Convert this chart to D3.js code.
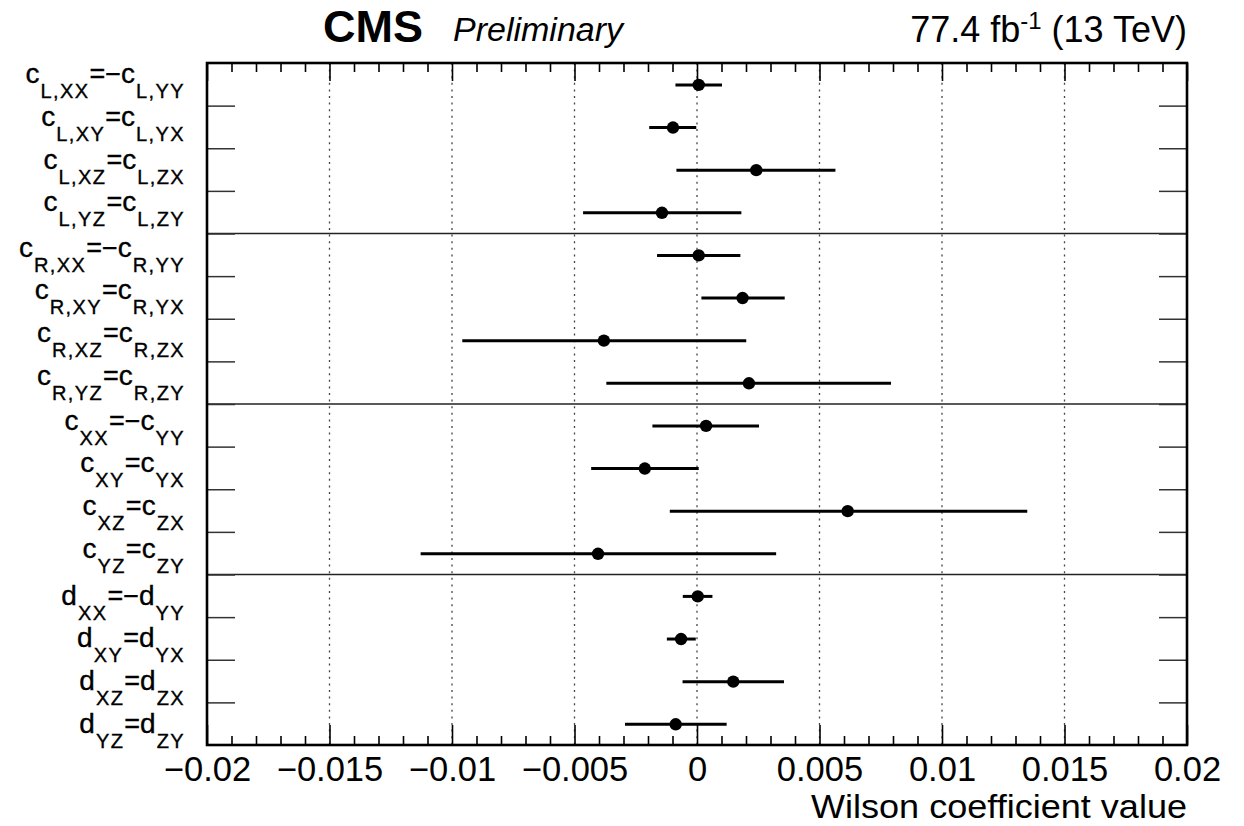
<!DOCTYPE html>
<html><head><meta charset="utf-8">
<script src="https://cdn.jsdelivr.net/npm/d3@7"></script>
<style>
html,body{margin:0;padding:0;background:#fff;}
text{font-family:"Liberation Sans",Arial,Helvetica,sans-serif;fill:#000;}
</style></head>
<body>
<svg id="chart" width="1244" height="826"></svg>
<script>
// ---- data ----
const letters = ["c","c","c","c","c","c","c","c","c","c","c","c","d","d","d","d"];
const sub1 = ["L,XX","L,XY","L,XZ","L,YZ","R,XX","R,XY","R,XZ","R,YZ","XX","XY","XZ","YZ","XX","XY","XZ","YZ"];
const ops  = ["=\u2212","=","=","=","=\u2212","=","=","=","=\u2212","=","=","=","=\u2212","=","=","="];
const sub2 = ["L,YY","L,YX","L,ZX","L,ZY","R,YY","R,YX","R,ZX","R,ZY","YY","YX","ZX","ZY","YY","YX","ZX","ZY"];
const central = [0.00007,-0.00098,0.00242,-0.00143, 0.00007,0.00186,-0.0038,0.00212, 0.00037,-0.00213,0.00615,-0.00404, 0.00003,-0.00065,0.00148,-0.00087];
const low     = [-0.00088,-0.00195,-0.00084,-0.00465, -0.00163,0.00018,-0.00958,-0.0037, -0.00182,-0.00432,-0.00111,-0.01128, -0.00058,-0.00123,-0.00059,-0.00294];
const high    = [0.00102,-0.00003,0.00565,0.00181, 0.00177,0.00358,0.00201,0.00792, 0.00253,0.00007,0.01348,0.00323, 0.00063,-0.00005,0.00355,0.00121];
const xMajorTicks = [-0.02,-0.015,-0.01,-0.005,0,0.005,0.01,0.015,0.02];
const xTickLabels = ["\u22120.02","\u22120.015","\u22120.01","\u22120.005","0","0.005","0.01","0.015","0.02"];
const groupBoundaries = [4,8,12];

// ---- layout ----
const L = 207, R = 1187, T = 63, B = 745;
const svg = d3.select("#chart");
const x = d3.scaleLinear().domain([-0.02,0.02]).range([L,R]);
const rows = d3.range(letters.length);
const yb = d3.scaleBand().domain(rows).range([T,B]).paddingInner(0).paddingOuter(0);
const yi = d3.scaleLinear().domain([0,letters.length]).range([T,B]);

// grid lines (dotted)
svg.append("g").selectAll("line")
  .data(xMajorTicks.filter(v=>v>-0.02 && v<0.02))
  .join("line")
  .attr("x1",d=>x(d)).attr("x2",d=>x(d)).attr("y1",T).attr("y2",B)
  .attr("stroke","#444").attr("stroke-width",1.3).attr("stroke-dasharray","2,4.6");

// group separators
svg.append("g").selectAll("line").data(groupBoundaries).join("line")
  .attr("x1",L).attr("x2",R).attr("y1",d=>yi(d)).attr("y2",d=>yi(d))
  .attr("stroke","#222").attr("stroke-width",1.5);

// axes
const minorTicks = d3.range(-20,21).map(i=>i/1000).filter(v=>Math.abs(Math.round(v*1000))%5!==0);
function styleAxis(g){ g.select(".domain").remove(); g.selectAll(".tick line").attr("stroke","#000").attr("stroke-width",1.6); }
const fmt = d => xTickLabels[xMajorTicks.findIndex(v=>Math.abs(v-d)<1e-9)];

svg.append("g").attr("transform",`translate(0,${B})`)
  .call(d3.axisBottom(x).tickValues(xMajorTicks).tickSize(-20).tickPadding(0).tickFormat(fmt))
  .call(styleAxis)
  .call(g=>g.selectAll(".tick text").attr("y",36).attr("dy",null)
     .style("font-size","34.5px").style("font-family","'Liberation Sans',Arial,sans-serif").attr("fill","#000"));
svg.append("g").attr("transform",`translate(0,${B})`)
  .call(d3.axisBottom(x).tickValues(minorTicks).tickSize(-9).tickFormat(""))
  .call(styleAxis);
svg.append("g").attr("transform",`translate(0,${T})`)
  .call(d3.axisTop(x).tickValues(xMajorTicks).tickSize(-18).tickFormat(""))
  .call(styleAxis);
svg.append("g").attr("transform",`translate(0,${T})`)
  .call(d3.axisTop(x).tickValues(minorTicks).tickSize(-9).tickFormat(""))
  .call(styleAxis);

const yTicks = d3.range(1,letters.length);
svg.append("g").attr("transform",`translate(${L},0)`)
  .call(d3.axisLeft(yi).tickValues(yTicks).tickSize(-28).tickFormat(""))
  .call(g=>{g.select(".domain").remove(); g.selectAll(".tick line").attr("stroke","#333").attr("stroke-width",1.5);});
svg.append("g").attr("transform",`translate(${R},0)`)
  .call(d3.axisRight(yi).tickValues(yTicks).tickSize(-28).tickFormat(""))
  .call(g=>{g.select(".domain").remove(); g.selectAll(".tick line").attr("stroke","#333").attr("stroke-width",1.5);});

// frame
svg.append("rect").attr("x",L).attr("y",T).attr("width",R-L).attr("height",B-T)
  .attr("fill","none").attr("stroke","#000").attr("stroke-width",2.6);

// error bars and points
const pts = svg.append("g");
pts.selectAll("line").data(rows).join("line")
  .attr("x1",i=>x(low[i])).attr("x2",i=>x(high[i]))
  .attr("y1",i=>yb(i)+yb.bandwidth()/2+0.6).attr("y2",i=>yb(i)+yb.bandwidth()/2+0.6)
  .attr("stroke","#000").attr("stroke-width",3);
pts.selectAll("circle").data(rows).join("circle")
  .attr("cx",i=>x(central[i])).attr("cy",i=>yb(i)+yb.bandwidth()/2+0.6)
  .attr("r",6.2).attr("fill","#000");

// row labels
const groupShift = [-1,2,4.5,9];
rows.forEach(i=>{
  const cy = yb(i)+yb.bandwidth()/2 + groupShift[Math.floor(i/4)];
  const t = svg.append("text").attr("x",185).attr("y",cy).attr("text-anchor","end")
    .attr("stroke","#000").attr("stroke-width",0.35);
  t.append("tspan").text(letters[i]).style("font-size","28px");
  t.append("tspan").text(sub1[i]).attr("dy",15).attr("dx",1).style("font-size","20px").style("letter-spacing","1.4px");
  t.append("tspan").text(ops[i]).attr("dy",-15).attr("dx",0).style("font-size","27px");
  t.append("tspan").text(letters[i]).style("font-size","28px");
  t.append("tspan").text(sub2[i]).attr("dy",15).attr("dx",1).style("font-size","20px").style("letter-spacing","1.4px");
});

// axis title
svg.append("text").attr("x",R).attr("y",818).attr("text-anchor","end")
  .attr("textLength",376).attr("lengthAdjust","spacingAndGlyphs")
  .style("font-size","33.5px").text("Wilson coefficient value");

// header
svg.append("text").attr("x",323).attr("y",42).style("font-size","45px").style("font-weight","bold").text("CMS");
svg.append("text").attr("x",453).attr("y",41).style("font-size","34px").style("font-style","italic").text("Preliminary");
const h = svg.append("text").attr("x",R).attr("y",42).attr("text-anchor","end").style("font-size","36px");
h.append("tspan").text("77.4 fb");
h.append("tspan").text("-1").attr("dy",-13).style("font-size","24px");
h.append("tspan").text(" (13 TeV)").attr("dy",13);
</script>
</body></html>
